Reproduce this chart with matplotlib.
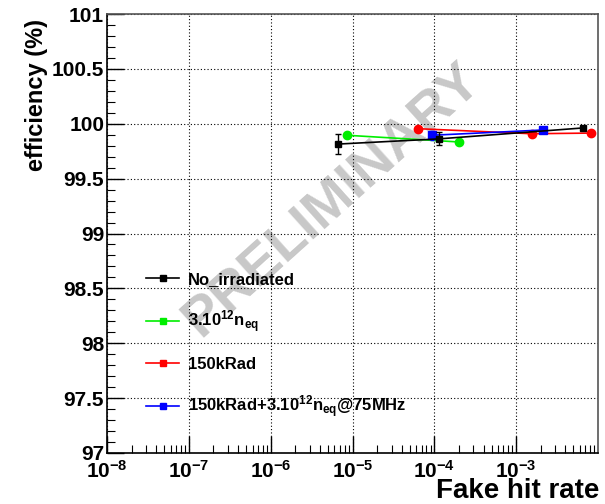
import numpy as np
import matplotlib.pyplot as plt
from matplotlib.ticker import LogLocator, MultipleLocator, FixedLocator, NullFormatter

plt.rcParams['font.family'] = ['Liberation Sans', 'DejaVu Sans']
plt.rcParams['mathtext.fontset'] = 'custom'
plt.rcParams['mathtext.rm'] = 'Liberation Sans:bold'
plt.rcParams['mathtext.it'] = 'Liberation Sans:bold'
plt.rcParams['mathtext.bf'] = 'Liberation Sans:bold'

# Fake hit rate vs efficiency for each irradiation condition
rate_noirr = [6.7e-6, 1.13e-4, 6.6e-3]
eff_noirr = [99.815, 99.862, 99.962]
err_noirr = [0.09, 0.06, 0.0]

rate_neq = [8.6e-6, 2.0e-4]
eff_neq = [99.895, 99.834]

rate_krad = [6.3e-5, 1.55e-3, 8.2e-3]
eff_krad = [99.955, 99.909, 99.915]

rate_both = [9.3e-5, 2.1e-3]
eff_both = [99.895, 99.943]
err_both = [0.04, 0.0]

labels = ["No_irradiated",
          r"3.10$^{12}$n$_{eq}$",
          "150kRad",
          r"150kRad+3.10$^{12}$n$_{eq}$@75MHz"]

fig = plt.figure(figsize=(6.05, 5.04), dpi=100)
ax = fig.add_axes([107 / 605, 1 - 453 / 504, (598 - 107) / 605, (453 - 14) / 504])

ax.errorbar(rate_noirr, eff_noirr, yerr=err_noirr, color='black', marker='s', ms=5,
            lw=1.2, capsize=2, elinewidth=1, zorder=5)
ax.plot(rate_neq, eff_neq, color='#00ee00', marker='o', ms=6, lw=1.2, zorder=4)
ax.plot(rate_krad, eff_krad, color='#ff0000', marker='o', ms=6, lw=1.2, zorder=3)
ax.errorbar(rate_both, eff_both, yerr=err_both, color='#0000ff', marker='s', ms=6,
            lw=1.2, capsize=1.5, elinewidth=1, zorder=4)

ax.set_xscale('log')
ax.set_xlim(1e-8, 1e-2)
ax.set_ylim(97, 101)

ax.xaxis.set_major_locator(FixedLocator([1e-8, 1e-7, 1e-6, 1e-5, 1e-4, 1e-3]))
ax.xaxis.set_minor_locator(LogLocator(base=10, subs=np.arange(2, 10)))
ax.xaxis.set_minor_formatter(NullFormatter())
ax.set_xticklabels([r"10$^{-8}$", r"10$^{-7}$", r"10$^{-6}$", r"10$^{-5}$",
                    r"10$^{-4}$", r"10$^{-3}$"])
ax.yaxis.set_minor_locator(MultipleLocator(0.1))
ax.set_yticks(np.arange(97, 101.01, 0.5))
ax.set_yticklabels(["97", "97.5", "98", "98.5", "99", "99.5", "100", "100.5", "101"])

ax.tick_params(axis='both', which='major', direction='in', length=12, width=1,
               labelsize=15, pad=2)
ax.tick_params(axis='both', which='minor', direction='in', length=6, width=0.8)
ax.tick_params(axis='x', which='major', pad=5)
for lab in ax.get_xticklabels() + ax.get_yticklabels():
    lab.set_fontweight('bold')

ax.grid(True, which='major', linestyle=(0, (1, 2)), color='black', lw=0.8)
for s in ['top', 'right']:
    ax.spines[s].set_color('#555555')
for s in ax.spines.values():
    s.set_linewidth(1.2)

ax.set_ylabel("efficiency (%)", fontsize=17, fontweight='bold')
ax.yaxis.set_label_coords(-0.12, 0.815)
fig.text(0.99, 0.0, "Fake hit rate", fontsize=20, fontweight='bold', ha='right', va='bottom')

# watermark
ax.text(0.458, 0.575, "PRELIMINARY", transform=ax.transAxes, fontsize=40, fontweight='bold',
        color='#c8c8c8', rotation=42, ha='center', va='center', zorder=1)

h1 = plt.Line2D([], [], color='black', marker='s', ms=4, lw=1.2)
h2 = plt.Line2D([], [], color='#00ee00', marker='s', ms=4, lw=1.2)
h3 = plt.Line2D([], [], color='#ff0000', marker='s', ms=4, lw=1.2)
h4 = plt.Line2D([], [], color='#0000ff', marker='s', ms=4, lw=1.2)
ax.legend([h1, h2, h3, h4], labels, loc='lower left', bbox_to_anchor=(0.066, 0.06),
          frameon=False, prop={'weight': 'bold', 'size': 12}, handlelength=2.0,
          handletextpad=0.5, labelspacing=1.3, borderaxespad=0)

fig.savefig("out.png", dpi=100)
